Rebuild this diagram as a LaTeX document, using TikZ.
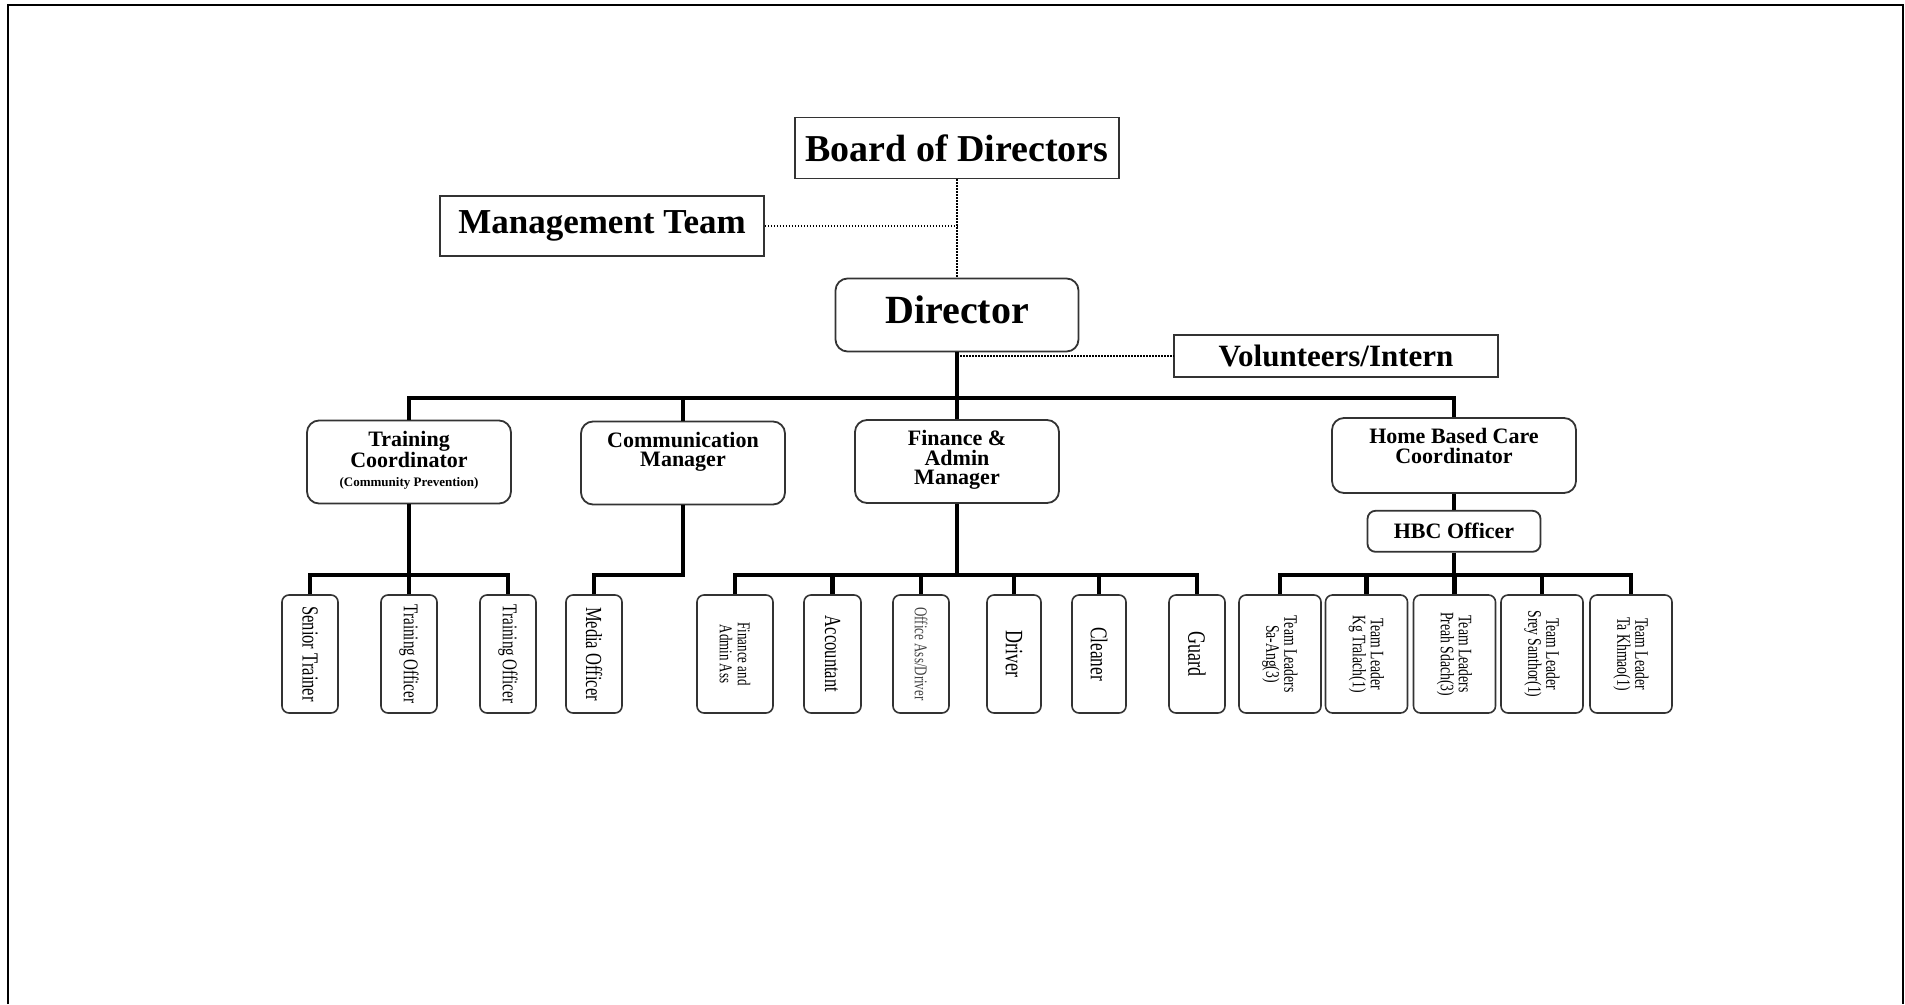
\documentclass[tikz,border=0pt]{standalone}
\usepackage{fontspec}
\setmainfont{Liberation Serif}
\newfontfamily\condfont[FakeStretch=0.72]{Liberation Serif}
\usetikzlibrary{positioning}
\newcommand\leafnode[5][56]{
  \node[leafbox, minimum width=#1,
    label={[leaftext=#4]center:{#5}}] (#2) at (#3,654) {};
}

\begin{document}
\begin{tikzpicture}[x=1pt, y=-1pt,
    plainbox/.style={draw=black!80, line width=1.8pt, inner sep=0pt},
    roundbox/.style={plainbox, rounded corners=12pt},
    midbox/.style={roundbox, minimum width=204, minimum height=83},
    midtext/.style={anchor=north, yshift=-11pt, inner sep=0pt, align=center,
                    font={\bfseries\fontsize{22}{19.5}\selectfont}},
    leafbox/.style={draw=black!80, line width=1.6pt, rounded corners=7pt,
                    minimum height=118, inner sep=0pt},
    leaftext/.style={rotate=-90, inner sep=0pt, align=center,
                     font={\condfont\fontsize{#1}{18}\selectfont}},
    bus/.style={line width=4.5pt},
    link/.style={line width=1.2pt, dash pattern=on 1.5pt off 1.5pt},]

    \useasboundingbox (0,0) rectangle (1905,1004);
    \draw[line width=2.5pt] (8,1004) -- (8,5) -- (1903,5) -- (1903,1004);

    % top of the chart
    \node[plainbox, minimum width=324, minimum height=61,
          font={\bfseries\fontsize{38}{40}\selectfont}] (board) at (957,148) {Board of Directors};
    \node[plainbox, minimum width=324, minimum height=60,
          font={\bfseries\fontsize{35}{38}\selectfont}] (mgmt) at (602,226) {Management Team};
    \node[roundbox, minimum width=243, minimum height=73, text depth=10pt,
          font={\bfseries\fontsize{40}{42}\selectfont}] (director) at (957,315) {Director};
    \node[plainbox, minimum width=324, minimum height=42,
          font={\bfseries\fontsize{31}{33}\selectfont}] (vol) at (1336,356) {Volunteers/Intern};

    \draw[link] (board.south) -- (director.north);
    \draw[link] (mgmt.east) -- (mgmt.east -| board.south);
    \coordinate (volfork) at (director.south |- vol.west);
    \draw[link] (volfork) -- (vol.west);

    % managers
    \node[midbox, label={[midtext]north:{Training\\Coordinator\\{\fontsize{13}{14}\selectfont(Community Prevention)}}}] (tc) at (409,462) {};
    \node[midbox, label={[midtext]north:{Communication\\Manager}}] (comm) at (683,463) {};
    \node[midbox, label={[midtext]north:{Finance \&\\Admin\\Manager}}] (fam) at (957,461.5) {};
    \node[midbox, minimum width=244, minimum height=75,
          label={[midtext]north:{Home Based Care\\Coordinator}}] (hbc) at (1454,455.5) {};
    \node[roundbox, rounded corners=8pt, minimum width=173, minimum height=41,
          font={\bfseries\fontsize{22}{24}\selectfont}, below=16pt of hbc] (hbco) {HBC Officer};

    \coordinate (topbus) at (957,398);
    \draw[bus] (director.south) -- (topbus);
    \draw[bus] (tc.north) |- (topbus) -| (hbc.north);
    \draw[bus] (comm.north) -- (comm.north |- topbus);
    \draw[bus] (fam.north) -- (topbus);

    % staff
    \leafnode{st}{310}{23}{Senior Trainer}
    \leafnode{to1}{409}{21}{Training Officer}
    \leafnode{to2}{508}{21}{Training Officer}
    \leafnode{mo}{594}{23}{Media Officer}
    \leafnode[76]{faa}{735}{18}{Finance and\\Admin Ass}
    \leafnode[57]{acc}{832.5}{23}{Accountant}
    \leafnode{oad}{921}{18}{\color{black!75}Office Ass/Driver}
    \leafnode[54]{drv}{1014}{25}{Driver}
    \leafnode[54]{cln}{1099}{24}{Cleaner}
    \leafnode{grd}{1197}{25}{Guard}
    \leafnode[82]{tl1}{1280}{19}{Team Leaders\\Sa-Ang(3)}
    \leafnode[82]{tl2}{1366.5}{19}{Team Leader\\Kg Tralach(1)}
    \leafnode[82]{tl3}{1454.5}{19}{Team Leaders\\Preah Sdach(3)}
    \leafnode[82]{tl4}{1542}{19}{Team Leader\\Srey Santhor(1)}
    \leafnode[82]{tl5}{1631}{19}{Team Leader\\Ta Khmao(1)}

    \coordinate (trbus) at (409,575);
    \draw[bus] (tc.south) -- (trbus);
    \draw[bus] (st.north) |- (trbus) -| (to2.north);
    \draw[bus] (to1.north) -- (trbus);

    \draw[bus] (comm.south) -- (comm.south |- trbus) -| (mo.north);

    \coordinate (fabus) at (fam.south |- trbus);
    \draw[bus] (fam.south) -- (fabus);
    \draw[bus] (faa.north) |- (fabus) -| (grd.north);
    \foreach \n in {acc,oad,drv,cln}
      \draw[bus] (\n.north) -- (\n.north |- fabus);

    \draw[bus] (hbc.south) -- (hbco.north);
    \coordinate (hbbus) at (hbco.south |- trbus);
    \draw[bus] (hbco.south) -- (hbbus);
    \draw[bus] (tl1.north) |- (hbbus) -| (tl5.north);
    \foreach \n in {tl2,tl3,tl4}
      \draw[bus] (\n.north) -- (\n.north |- hbbus);

\end{tikzpicture}
\end{document}
